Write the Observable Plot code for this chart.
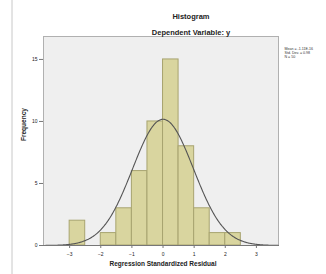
<!DOCTYPE html>
<html><head><meta charset="utf-8">
<script src="https://cdn.jsdelivr.net/npm/d3@7"></script>
<script src="https://cdn.jsdelivr.net/npm/@observablehq/plot@0.6"></script>
<style>
body{margin:0;background:#fff;}
#c{position:relative;width:326px;height:274px;}
</style></head><body><div id="c"></div>
<script>
const binStart = [-3,-2.5,-2,-1.5,-1,-0.5,0,0.5,1,1.5,2];
const binWidth = 0.5;
const counts = [2,0,1,3,6,10,15,8,3,1,1];
const mean = 0.0, stdDev = 0.98, n = 50;
const xTicks = [-3,-2,-1,0,1,2,3];
const yTicks = [0,5,10,15];
const legendLines = ["Mean = -1.11E-16","Std. Dev. = 0.98","N = 50"];

const bars = binStart.map((s,i)=>({x1:s,x2:s+binWidth,y:counts[i]})).filter(d=>d.y>0);
const xs = d3.range(-3.84,3.71,0.02);
const curve = xs.map(x=>({x,y:n*binWidth*Math.exp(-0.5*((x-mean)/stdDev)**2)/(stdDev*Math.sqrt(2*Math.PI))}));

const chart = Plot.plot({
  width:326,height:274,
  marginLeft:43,marginRight:48,marginTop:36,marginBottom:29,
  style:{fontFamily:"Liberation Sans, Arial, sans-serif",background:"#fff",color:"#222"},
  x:{domain:[-3.84,3.71],ticks:xTicks,label:null},
  y:{domain:[0,16.85],ticks:yTicks,label:null},
  marks:[
    Plot.frame({fill:"#efefef",stroke:"#b0b0b0"}),
    Plot.rectY(bars,{x1:"x1",x2:"x2",y:"y",fill:"#d9d59f",stroke:"#a8a470",strokeWidth:1}),
    Plot.line(curve,{x:"x",y:"y",stroke:"#555",strokeWidth:1.1,curve:"basis"}),
    Plot.axisX({ticks:xTicks,tickSize:3,fontSize:5,tickPadding:4,stroke:"#777",label:null}),
    Plot.axisY({ticks:yTicks,tickSize:4,fontSize:5,tickPadding:2,stroke:"#777",label:null}),
    Plot.ruleY([0],{stroke:"#777"}),
    Plot.text(["Histogram"],{frameAnchor:"top",dx:30,dy:-23,fontSize:7.5,fontWeight:"bold",fill:"#222"}),
    Plot.text(["Dependent Variable: y"],{frameAnchor:"top",dx:30,dy:-7,fontSize:7.5,fontWeight:"bold",fill:"#222"}),
    Plot.text(["Regression Standardized Residual"],{frameAnchor:"bottom",dx:2,dy:20,fontSize:6.5,fontWeight:"bold",fill:"#222"}),
    Plot.text(["Frequency"],{frameAnchor:"left",dx:-20,rotate:-90,fontSize:6.5,fontWeight:"bold",fill:"#222"}),
    Plot.text([legendLines.join("\n")],{frameAnchor:"top-right",dx:6,dy:11,textAnchor:"start",fontSize:3.6,lineHeight:1.1,fill:"#333"})
  ]
});
document.getElementById("c").appendChild(chart);
d3.select(chart).append("line").attr("x1",12).attr("x2",12).attr("y1",0).attr("y2",274).attr("stroke","#c8c8c8");
</script></body></html>
